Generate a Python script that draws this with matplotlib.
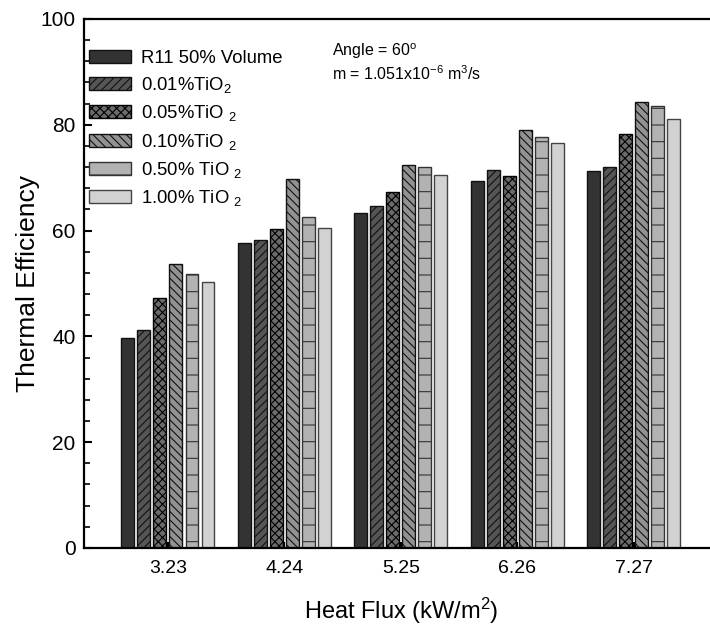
import matplotlib
matplotlib.use("Agg")
import matplotlib.pyplot as plt
import numpy as np

plt.rcParams['font.family'] = ['Liberation Sans', 'DejaVu Sans']
plt.rcParams['mathtext.default'] = 'regular'
plt.rcParams['hatch.linewidth'] = 0.8

# data
heat_flux = [3.23, 4.24, 5.25, 6.26, 7.27]
labels = ["R11 50% Volume", "0.01%TiO$_2$", "0.05%TiO $_2$",
          "0.10%TiO $_2$", "0.50% TiO $_2$", "1.00% TiO $_2$"]
r11 = [39.6, 57.6, 63.3, 69.4, 71.3]
tio2_001 = [41.2, 58.3, 64.6, 71.5, 72.0]
tio2_005 = [47.2, 60.2, 67.2, 70.3, 78.3]
tio2_010 = [53.7, 69.8, 72.4, 79.0, 84.3]
tio2_050 = [51.7, 62.5, 72.0, 77.6, 83.6]
tio2_100 = [50.2, 60.4, 70.5, 76.5, 81.1]
series = [r11, tio2_001, tio2_005, tio2_010, tio2_050, tio2_100]

fills = ['#333333', '#555555', '#6b6b6b', '#929292', '#b2b2b2', '#d2d2d2']
hatches = [None, '////', 'xxxx', '\\\\\\\\', '-', None]
edges = ['#111111', '#111111', '#000000', '#111111', '#333333', '#444444']

fig = plt.figure(figsize=(7.1, 6.32), dpi=100)
ax = fig.add_axes([0.118, 0.133, 0.893, 0.837])

pitch = 0.139
width = 0.112
x = np.array(heat_flux)
for i, (vals, lab) in enumerate(zip(series, labels)):
    off = (i - 2.5) * pitch
    ax.bar(x + off, vals, width=width, color=fills[i], edgecolor=edges[i],
           hatch=hatches[i], linewidth=1.0, label=lab)

ax.set_xlim(2.5, 8.0)
ax.set_ylim(0, 100)
ax.set_xticks(heat_flux)
ax.set_xticklabels([f"{h:.2f}" for h in heat_flux])
ax.set_yticks(range(0, 101, 20))
ax.set_yticks(range(0, 101, 4), minor=True)
ax.tick_params(axis='y', which='major', direction='in', length=6, width=1.5,
               labelsize=15, pad=6)
ax.tick_params(axis='y', which='minor', direction='in', length=4, width=1.2)
ax.tick_params(axis='x', which='major', direction='in', length=4, width=1.5,
               labelsize=14, pad=9)
for s in ax.spines.values():
    s.set_linewidth(1.6)

ax.set_ylabel("Thermal Efficiency", fontsize=19, labelpad=0)
ax.set_xlabel("Heat Flux (kW/m$^2$)", fontsize=17, labelpad=13)

# two lines of run conditions
ax.text(0.392, 0.93, "Angle = 60$^o$", transform=ax.transAxes,
        fontsize=11.5, va='baseline')
ax.text(0.392, 0.885, "m = 1.051x10$^{-6}$ m$^3$/s", transform=ax.transAxes,
        fontsize=11.5, va='baseline')

ax.legend(loc='upper left', bbox_to_anchor=(0.008, 0.942), borderaxespad=0,
          frameon=False, fontsize=13.3, handlelength=2.3, handleheight=0.72,
          handletextpad=0.55, labelspacing=0.45, borderpad=0)

fig.savefig("out.png", dpi=100)
